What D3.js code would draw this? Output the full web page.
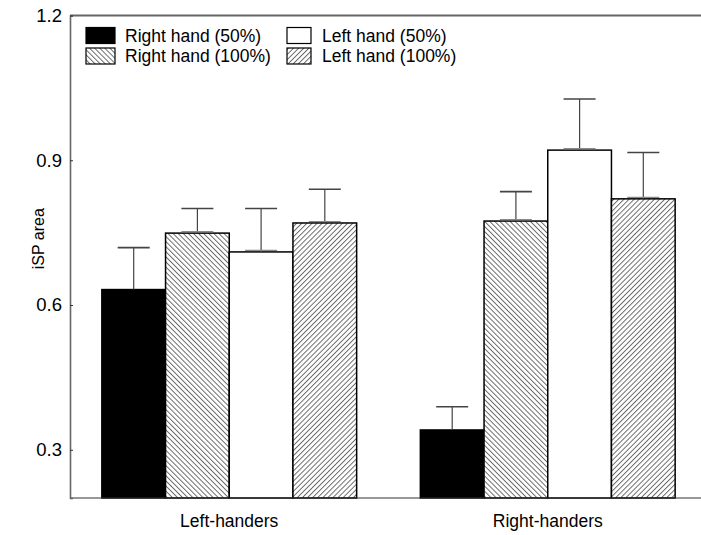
<!DOCTYPE html>
<html>
<head>
<meta charset="utf-8">
<script src="https://cdn.jsdelivr.net/npm/d3@7"></script>
<style>
  html, body { margin: 0; padding: 0; background: #fff; }
  svg { display: block; }
  text { font-family: "Liberation Sans", Arial, sans-serif; fill: #000; }
</style>
</head>
<body>
<script>
const groups = ["Left-handers", "Right-handers"];
const seriesNames = ["Right hand (50%)", "Right hand (100%)", "Left hand (50%)", "Left hand (100%)"];
const leftHandersMeans = [0.632, 0.749, 0.710, 0.770];
const leftHandersErrors = [0.087, 0.051, 0.090, 0.070];
const rightHandersMeans = [0.341, 0.774, 0.921, 0.820];
const rightHandersErrors = [0.048, 0.061, 0.106, 0.096];
const yTicks = [0.3, 0.6, 0.9, 1.2];
const yLabel = "iSP area";

(function () {
const W = 701, H = 535;
const svg = d3.select("body").append("svg").attr("width", W).attr("height", H);

const defs = svg.append("defs");
function hatch(id, angle) {
  const p = defs.append("pattern").attr("id", id)
    .attr("patternUnits", "userSpaceOnUse")
    .attr("width", 3.6).attr("height", 10)
    .attr("patternTransform", `rotate(${angle})`);
  p.append("rect").attr("width", 3.6).attr("height", 10).attr("fill", "#fff");
  p.append("line").attr("x1", 0.5).attr("x2", 0.5).attr("y1", 0).attr("y2", 10)
    .attr("stroke", "#333").attr("stroke-width", 0.75);
}
hatch("back", -45);
hatch("fwd", 45);
const fills = ["#000", "url(#back)", "#fff", "url(#fwd)"];

const mLeft = 70, mRight = 701, mTop = 15.5, mBottom = 498;
const y = d3.scaleLinear().domain([0.2, 1.2]).range([mBottom, mTop]);
const x0 = d3.scaleBand().domain(groups).range([mLeft, 707]).paddingInner(0.2).paddingOuter(0.1);
const x1 = d3.scaleBand().domain(seriesNames).range([0, x0.bandwidth()]).padding(0);

const data = groups.map((g, gi) => {
  const m = gi === 0 ? leftHandersMeans : rightHandersMeans;
  const e = gi === 0 ? leftHandersErrors : rightHandersErrors;
  return seriesNames.map((s, si) => ({ g, s, si, v: m[si], err: e[si] }));
});

// Bars
const gGroups = svg.append("g").selectAll("g").data(data).join("g")
  .attr("transform", (d, i) => `translate(${x0(groups[i])},0)`);

gGroups.selectAll("rect").data(d => d).join("rect")
  .attr("x", d => x1(d.s))
  .attr("y", d => y(d.v))
  .attr("width", x1.bandwidth())
  .attr("height", d => y(0.2) - y(d.v))
  .attr("fill", d => fills[d.si])
  .attr("stroke", "#000").attr("stroke-width", 1.5);

// Error bars
const capW = 32;
const eb = gGroups.selectAll("g.eb").data(d => d).join("g").attr("class", "eb");
eb.append("line")
  .attr("x1", d => x1(d.s) + x1.bandwidth() / 2)
  .attr("x2", d => x1(d.s) + x1.bandwidth() / 2)
  .attr("y1", d => y(d.v))
  .attr("y2", d => y(d.v + d.err))
  .attr("stroke", "#444").attr("stroke-width", 1.2);
eb.append("line")
  .attr("x1", d => x1(d.s) + x1.bandwidth() / 2 - capW / 2)
  .attr("x2", d => x1(d.s) + x1.bandwidth() / 2 + capW / 2)
  .attr("y1", d => y(d.v + d.err))
  .attr("y2", d => y(d.v + d.err))
  .attr("stroke", "#444").attr("stroke-width", 1.6);
eb.filter(d => d.si !== 0).append("line")
  .attr("x1", d => x1(d.s) + x1.bandwidth() / 2 - capW / 2)
  .attr("x2", d => x1(d.s) + x1.bandwidth() / 2 + capW / 2)
  .attr("y1", d => y(d.v) - 1.5)
  .attr("y2", d => y(d.v) - 1.5)
  .attr("stroke", "#888").attr("stroke-width", 1.2);

// Frame
svg.append("line").attr("x1", mLeft).attr("x2", mRight).attr("y1", mTop).attr("y2", mTop)
  .attr("stroke", "#666").attr("stroke-width", 2);
svg.append("line").attr("x1", mLeft).attr("x2", mRight).attr("y1", mBottom).attr("y2", mBottom)
  .attr("stroke", "#333").attr("stroke-width", 1.2);

// Y axis
const yAxis = svg.append("g").attr("transform", `translate(${mLeft},0)`)
  .call(d3.axisLeft(y).tickValues(yTicks).tickFormat(d3.format(".1f")).tickSize(-3).tickPadding(8));
yAxis.select(".domain").attr("stroke", "#666").attr("stroke-width", 1.6);
yAxis.selectAll(".tick line").attr("stroke", "#333");
yAxis.selectAll(".tick text").style("font-size", "18.5px").attr("fill", "#000")
  .style("font-family", '"Liberation Sans", Arial, sans-serif');

svg.append("text")
  .attr("transform", `translate(44,${(mTop + mBottom) / 2 - 18}) rotate(-90)`)
  .attr("text-anchor", "middle")
  .style("font-size", "16px")
  .text(yLabel);

// X labels
svg.append("g").selectAll("text").data(groups).join("text")
  .attr("x", d => x0(d) + x0.bandwidth() / 2)
  .attr("y", 527)
  .attr("text-anchor", "middle")
  .style("font-size", "17.5px")
  .text(d => d);

// Legend
const legendOrder = [0, 2, 1, 3];
const legendPos = [
  { sx: 86, sw: 29, tx: 125, row: 0 },
  { sx: 287, sw: 24, tx: 322, row: 0 },
  { sx: 86, sw: 29, tx: 125, row: 1 },
  { sx: 287, sw: 24, tx: 322, row: 1 }
];
const lg = svg.append("g");
legendOrder.forEach((si, k) => {
  const p = legendPos[k];
  const yy = 27.5 + p.row * 20.5;
  lg.append("rect").attr("x", p.sx).attr("y", yy).attr("width", p.sw).attr("height", 16)
    .attr("fill", fills[si]).attr("stroke", "#000").attr("stroke-width", 1.2);
  lg.append("text").attr("x", p.tx).attr("y", yy + 14).style("font-size", "17.5px")
    .text(seriesNames[si]);
});
})();
</script>
</body>
</html>
